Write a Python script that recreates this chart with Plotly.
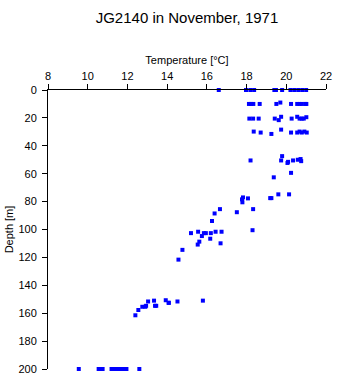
import plotly.graph_objects as go

# Temperature [°C] and depth [m] readings (JG2140, November 1971)
temperature = [
    # ~0 m
    16.6, 17.97, 18.19, 18.38, 19.40, 19.48, 19.79, 20.21, 20.40, 20.60, 20.80, 21.00,
    # ~10 m
    18.12, 18.22, 18.34, 18.66, 19.50, 19.70, 20.24, 20.55, 20.67, 20.78, 20.95, 21.01,
    # ~20 m
    18.14, 18.33, 18.61, 19.42, 19.62, 19.74, 20.27, 20.55, 20.67, 20.78, 20.88, 21.01,
    # ~30 m
    18.36, 18.71, 19.25, 19.74, 20.24, 20.55, 20.67, 20.78, 20.91, 21.03,
    # ~50 m
    19.79, 18.20, 19.74, 20.09, 20.06, 20.34, 20.58, 20.72, 20.75,
    # 60 m
    20.24, 19.37,
    # ~75 m
    19.60, 20.14, 17.82, 17.77, 18.07, 17.79, 19.19, 19.25,
    # 85-95 m
    16.66, 18.33, 17.51, 16.39, 16.26,
    # ~100-120 m
    18.30, 15.56, 16.44, 16.74, 15.20, 15.85, 15.95, 16.20, 15.75, 16.17, 15.62, 16.69,
    15.54, 14.77, 14.57,
    # ~150-160 m
    14.52, 15.80, 14.08, 13.04, 13.34, 13.93, 14.08, 13.39, 13.45, 12.75, 12.90, 12.94,
    12.55, 12.40,
    # 200 m
    9.55, 10.55, 10.65, 10.75, 11.20, 11.35, 11.45, 11.55, 11.65, 11.75, 11.85, 11.95, 12.60,
]
depth = [
    0, 0, 0, 0, 0, 0, 0, 0, 0, 0, 0, 0,
    10, 10, 10, 10, 10, 9, 10, 10, 10, 10, 10, 10,
    20.5, 20.5, 20.5, 20.5, 21.6, 19.2, 20.5, 19.2, 20.5, 20.5, 20.5, 19.5,
    29.8, 30.5, 31.5, 28.4, 30.5, 30.5, 29.8, 30.5, 29.8, 30.5,
    47.4, 50.5, 50.5, 51.5, 52.3, 50.5, 50.0, 49.5, 51.0,
    59.4, 62.6,
    74.8, 74.8, 77.0, 78.4, 77.7, 80.5, 77.5, 77.5,
    85.4, 85.4, 87.6, 88.5, 93.9,
    100.5, 101.6, 101.6, 101.6, 102.6, 102.6, 102.6, 102.6, 104.7, 106.6, 108.7, 109.9,
    110.8, 114.6, 121.6,
    151.6, 151.0, 152.6, 151.6, 151.0, 150.7, 152.5, 154.7, 154.7, 155.4, 155.4, 154.7,
    157.7, 161.5,
    200, 200, 200, 200, 200, 200, 200, 200, 200, 200, 200, 200, 200,
]

x_ticks = [8, 10, 12, 14, 16, 18, 20, 22]
y_ticks = [0, 20, 40, 60, 80, 100, 120, 140, 160, 180, 200]

fig = go.Figure()
fig.add_trace(go.Scatter(
    x=temperature, y=depth, mode="markers",
    marker=dict(symbol="square", size=4, color="#0000ff", line=dict(width=0)),
    cliponaxis=False, showlegend=False,
))

font_family = "Liberation Sans, Arial, sans-serif"
fig.update_layout(
    width=341, height=384,
    margin=dict(l=48, r=9, t=90, b=9),
    paper_bgcolor="white", plot_bgcolor="white",
    font=dict(family=font_family, size=11, color="black"),
    title=dict(text="JG2140 in November, 1971", x=0.5, xref="paper",
               y=1 - 18 / 384, yref="container", yanchor="middle", xanchor="center",
               font=dict(size=15, color="black")),
    xaxis=dict(side="top", range=[8, 22], tickvals=x_ticks, ticks="outside", ticklen=5,
               tickcolor="black", showline=True, linecolor="black", linewidth=1,
               showgrid=False, zeroline=False,
               title=dict(text="Temperature [°C]", standoff=2, font=dict(size=11))),
    yaxis=dict(range=[200, 0], tickvals=y_ticks, ticks="outside", ticklen=5,
               tickcolor="black", showline=True, linecolor="black", linewidth=1,
               showgrid=False, zeroline=False, ticklabelstandoff=3,
               title=dict(text="Depth [m]", standoff=2, font=dict(size=11))),
)
fig.write_html("out.html")
